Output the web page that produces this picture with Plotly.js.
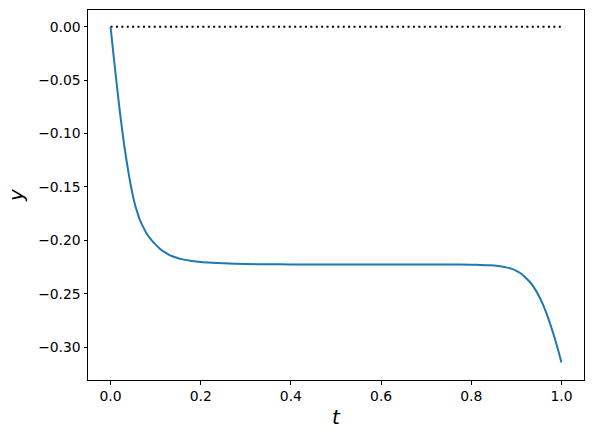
<!DOCTYPE html>
<html>
<head>
<meta charset="utf-8">
<script src="https://cdn.plot.ly/plotly-3.0.1.min.js"></script>
<style>html,body{margin:0;padding:0;background:#fff;}#chart{width:593px;height:438px;}</style>
</head>
<body>
<div id="chart"></div>
<script>
const tValues = [0, 0.005, 0.01, 0.015, 0.02, 0.025, 0.03, 0.035, 0.04, 0.045, 0.05, 0.055, 0.06, 0.065, 0.07, 0.08, 0.09, 0.10, 0.11, 0.12, 0.13, 0.14, 0.15, 0.16, 0.18, 0.20, 0.225, 0.25, 0.30, 0.35, 0.40, 0.50, 0.60, 0.70, 0.75, 0.80, 0.82, 0.84, 0.86, 0.88, 0.89, 0.90, 0.91, 0.92, 0.93, 0.94, 0.95, 0.96, 0.97, 0.98, 0.99, 1.0];
const yValues = [0, -0.0199, -0.0395, -0.0585, -0.077, -0.094, -0.110, -0.124, -0.137, -0.1488, -0.159, -0.1678, -0.1745, -0.1808, -0.1855, -0.1935, -0.1993, -0.204, -0.208, -0.211, -0.2135, -0.2153, -0.2167, -0.2178, -0.2193, -0.2203, -0.221, -0.2215, -0.2221, -0.2224, -0.2225, -0.2225, -0.2225, -0.2225, -0.2226, -0.2228, -0.2230, -0.2233, -0.2240, -0.2255, -0.2267, -0.2285, -0.2310, -0.2348, -0.2390, -0.2447, -0.2521, -0.2611, -0.2721, -0.2847, -0.2987, -0.3143];
const refT = [0, 1];
const refY = [0, 0];
const xTicks = [0, 0.2, 0.4, 0.6, 0.8, 1.0];
const yTicks = [0, -0.05, -0.10, -0.15, -0.20, -0.25, -0.30];

const font = "DejaVu Sans, sans-serif";
const traces = [
  {x: refT, y: refY, mode: 'lines', line: {color: 'black', width: 2, dash: '2px,3.4px'}, hoverinfo: 'skip'},
  {x: tValues, y: yValues, mode: 'lines', line: {color: '#1f77b4', width: 2, shape: 'spline', smoothing: 0.5}}
];
const axisBase = {
  showline: true, linecolor: 'black', linewidth: 1, mirror: true,
  ticks: 'outside', ticklen: 3.5, tickwidth: 1, tickcolor: 'black',
  showgrid: false, zeroline: false,
  tickfont: {family: font, size: 13.9, color: 'black'}
};
const layout = {
  width: 593, height: 438,
  margin: {l: 88, r: 9, t: 10, b: 58},
  paper_bgcolor: 'white', plot_bgcolor: 'white',
  showlegend: false,
  xaxis: Object.assign({}, axisBase, {
    range: [-0.05, 1.05], tickvals: xTicks, tickformat: '.1f',
    title: {text: '<i>t</i>', font: {family: font, size: 20, color: 'black'}, standoff: 6}
  }),
  yaxis: Object.assign({}, axisBase, {
    range: [-0.33075, 0.01575], tickvals: yTicks, tickformat: '.2f',
    title: {text: '<i>y</i>', font: {family: font, size: 20, color: 'black'}, standoff: 9}
  })
};
Plotly.newPlot('chart', traces, layout, {staticPlot: true, displayModeBar: false});
</script>
</body>
</html>
